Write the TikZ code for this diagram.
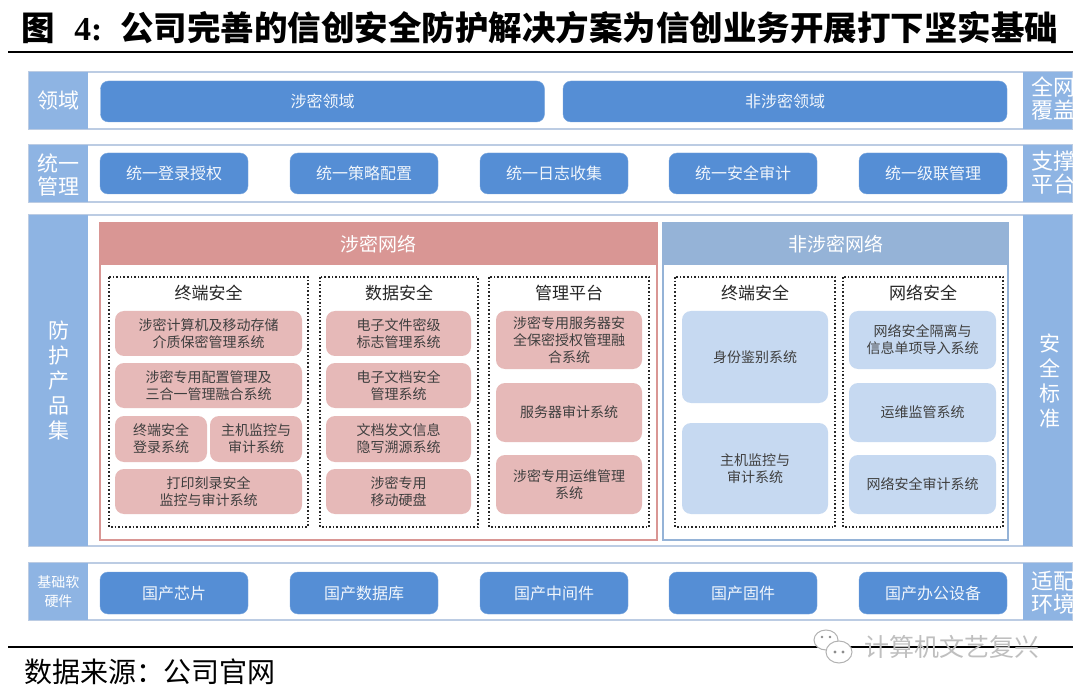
\documentclass[tikz,border=0pt]{standalone}
\usepackage{fontspec}
\setmainfont{Noto Sans CJK SC}
\newfontfamily\titlelatin{Liberation Serif}
\usepackage{tikz}
\usetikzlibrary{positioning}
\definecolor{labelblue}{HTML}{8EB4E3}
\definecolor{boxblue}{HTML}{558ED5}
\definecolor{bandline}{HTML}{BCCCE3}
\definecolor{redhead}{HTML}{D99694}
\definecolor{reditem}{HTML}{E6B9B8}
\definecolor{bluehead}{HTML}{95B3D7}
\definecolor{blueitem}{HTML}{C6D9F1}
\definecolor{itemtext}{HTML}{3F3F3F}
\tikzset{
  every node/.style={inner sep=0pt, outer sep=0pt}
}

\begin{document}
\begin{tikzpicture}[x=1pt, y=-1pt]
  \tikzset{
    band/.style={
      draw=bandline,
      line width=1.2pt,
      fill=white,
    },
    sidecell/.style={
      fill=labelblue,
    },
    sidetext/.style={
      text=white,
      align=center,
      font=\fontsize{21}{25}\selectfont,
    },
    bluebox/.style={
      draw=boxblue!80!white,
      fill=boxblue,
      rounded corners=8pt,
      text=white!92!boxblue,
      minimum height=41pt,
      font=\fontsize{16}{19}\selectfont,
    },
    dotbox/.style={
      dotted,
      line width=1.6pt,
      black!85,
    },
    subhead/.style={
      text=black!85,
      font=\fontsize{17}{20}\selectfont,
    },
    reditembox/.style={
      fill=reditem,
      rounded corners=9pt,
      text=itemtext,
      align=center,
      font=\fontsize{14}{17}\selectfont,
    },
    blueitembox/.style={
      reditembox,
      fill=blueitem,
    },
  }
  \useasboundingbox (0,0) rectangle (1080,695);

  % Title
  \node[anchor=west, font=\fontsize{33.5}{36}\selectfont\bfseries] (title) at (21,28)
    {图\hspace{20pt}{\titlelatin\bfseries 4:}\hspace{18pt}公司完善的信创安全防护解决方案为信创业务开展打下坚实基础};
  \draw[line width=2pt] (8,52) -- (1073,52);

  % Bands
  \draw[band] (29,72) rectangle (1072,129);
  \draw[band] (29,145) rectangle (1072,202);
  \draw[band] (29,215) rectangle (1072,546);
  \draw[band] (29,563) rectangle (1072,620);
  \fill[sidecell] (29,72) rectangle (88,129);
  \fill[sidecell] (29,145) rectangle (88,202);
  \fill[sidecell] (29,215) rectangle (88,546);
  \fill[sidecell] (29,563) rectangle (88,620);
  \node[sidetext] (l1) at (58.5,101) {领域};
  \node[sidetext, font=\fontsize{21}{23}\selectfont] (l2) at (58.5,175) {统一\\管理};
  \node[sidetext] (l3) at (58.5,381) {防\\护\\产\\品\\集};
  \node[sidetext, font=\fontsize{14}{19}\selectfont] (l4) at (58.5,592) {基础软\\硬件};

  % Right cells, cut at the edge
  \begin{scope}
    \clip (1023,72) rectangle (1072,620);
    \fill[sidecell] (1023,72) rectangle (1072,129);
    \fill[sidecell] (1023,145) rectangle (1072,202);
    \fill[sidecell] (1023,215) rectangle (1072,546);
    \fill[sidecell] (1023,563) rectangle (1072,620);
    \node[sidetext, anchor=west, align=left, font=\fontsize{22}{23}\selectfont] (r1) at (1031,99) {全网\\覆盖};
    \node[sidetext, anchor=west, align=left, font=\fontsize{22}{23}\selectfont] (r2) at (1031,173) {支撑\\平台};
    \node[sidetext] (r3) at (1050,381) {安\\全\\标\\准};
    \node[sidetext, anchor=west, align=left, font=\fontsize{22}{23}\selectfont] (r4) at (1031,593) {适配\\环境};
  \end{scope}

  % Domains
  \node[bluebox, minimum width=444pt] (d1) at (322.5,101.5) {涉密领域};
  \node[bluebox, minimum width=444pt] (d2) at (785,101.5) {非涉密领域};

  % Unified management
  \node[bluebox, minimum width=148pt] (m1) at (174,173.5) {统一登录授权};
  \node[bluebox, minimum width=148pt] (m2) at (364,173.5) {统一策略配置};
  \node[bluebox, minimum width=148pt] (m3) at (554,173.5) {统一日志收集};
  \node[bluebox, minimum width=148pt] (m4) at (743,173.5) {统一安全审计};
  \node[bluebox, minimum width=148pt] (m5) at (933,173.5) {统一级联管理};

  % Classified network
  \draw[redhead, line width=2pt, fill=white] (100,223) rectangle (657,540);
  \fill[redhead] (100,223) rectangle (657,265);
  \node[text=white, font=\fontsize{19}{22}\selectfont] (sn) at (378.5,244) {涉密网络};
  \draw[dotbox] (109,277) rectangle (308,527);
  \draw[dotbox] (320,277) rectangle (478,527);
  \draw[dotbox] (489,277) rectangle (649,527);
  \node[subhead] (sh1) at (208.5,293) {终端安全};
  \node[subhead] (sh2) at (399,293) {数据安全};
  \node[subhead] (sh3) at (569,293) {管理平台};

  \node[reditembox, minimum width=187pt, minimum height=45pt] (t1) at (208.5,333.5) {涉密计算机及移动存储\\介质保密管理系统};
  \node[reditembox, minimum width=187pt, minimum height=45pt] (t2) at (208.5,385.5) {涉密专用配置管理及\\三合一管理融合系统};
  \node[reditembox, minimum width=92pt, minimum height=46pt] (t3) at (161,439) {终端安全\\登录系统};
  \node[reditembox, minimum width=92pt, minimum height=46pt] (t4) at (256,439) {主机监控与\\审计系统};
  \node[reditembox, minimum width=187pt, minimum height=45pt] (t5) at (208.5,491.5) {打印刻录安全\\监控与审计系统};

  \node[reditembox, minimum width=145pt, minimum height=45pt] (a1) at (398.5,333.5) {电子文件密级\\标志管理系统};
  \node[reditembox, minimum width=145pt, minimum height=45pt] (a2) at (398.5,385.5) {电子文档安全\\管理系统};
  \node[reditembox, minimum width=145pt, minimum height=46pt] (a3) at (398.5,439) {文档发文信息\\隐写溯源系统};
  \node[reditembox, minimum width=145pt, minimum height=45pt] (a4) at (398.5,491.5) {涉密专用\\移动硬盘};

  \node[reditembox, minimum width=146pt, minimum height=58pt] (p1) at (569,340) {涉密专用服务器安\\全保密授权管理融\\合系统};
  \node[reditembox, minimum width=146pt, minimum height=59pt] (p2) at (569,412.5) {服务器审计系统};
  \node[reditembox, minimum width=146pt, minimum height=59pt] (p3) at (569,484.5) {涉密专用运维管理\\系统};

  % Non-classified network
  \draw[bluehead, line width=2pt, fill=white] (663,223) rectangle (1008,540);
  \fill[bluehead] (663,223) rectangle (1008,265);
  \node[text=white, font=\fontsize{19}{22}\selectfont] (nn) at (835.5,244) {非涉密网络};
  \draw[dotbox] (675,277) rectangle (835,527);
  \draw[dotbox] (843,277) rectangle (1003,527);
  \node[subhead] (sh4) at (755,293) {终端安全};
  \node[subhead] (sh5) at (923,293) {网络安全};

  \node[blueitembox, minimum width=146pt, minimum height=92pt] (e1) at (755,357) {身份鉴别系统};
  \node[blueitembox, minimum width=146pt, minimum height=91pt] (e2) at (755,468.5) {主机监控与\\审计系统};

  \node[blueitembox, minimum width=147pt, minimum height=58pt] (w1) at (922.5,340) {网络安全隔离与\\信息单项导入系统};
  \node[blueitembox, minimum width=147pt, minimum height=59pt] (w2) at (922.5,412.5) {运维监管系统};
  \node[blueitembox, minimum width=147pt, minimum height=59pt] (w3) at (922.5,484.5) {网络安全审计系统};

  % Base software and hardware
  \node[bluebox, minimum width=148pt, minimum height=42pt] (b1) at (174,593) {国产芯片};
  \node[bluebox, minimum width=148pt, minimum height=42pt] (b2) at (364,593) {国产数据库};
  \node[bluebox, minimum width=148pt, minimum height=42pt] (b3) at (554,593) {国产中间件};
  \node[bluebox, minimum width=148pt, minimum height=42pt] (b4) at (743,593) {国产固件};
  \node[bluebox, minimum width=148pt, minimum height=42pt] (b5) at (933,593) {国产办公设备};

  % Foot
  \draw[line width=2pt] (8,647) -- (1073,647);
  \draw[black!30, fill=white, line width=1pt] (826,640) ellipse (12 and 10);
  \draw[black!30, fill=white, line width=1pt] (839,652) ellipse (13 and 11);
  \fill[black!45] (822,637) circle (1.4) (830,637) circle (1.4) (835,652) circle (1.6) (843,652) circle (1.6);
  \node[text=black!25, font=\fontsize{25}{28}\selectfont] (wm) at (952,647) {计算机文艺复兴};
  \node[anchor=west, font=\fontsize{28}{30}\selectfont] (src) at (24,672) {数据来源：公司官网};
\end{tikzpicture}
\end{document}
